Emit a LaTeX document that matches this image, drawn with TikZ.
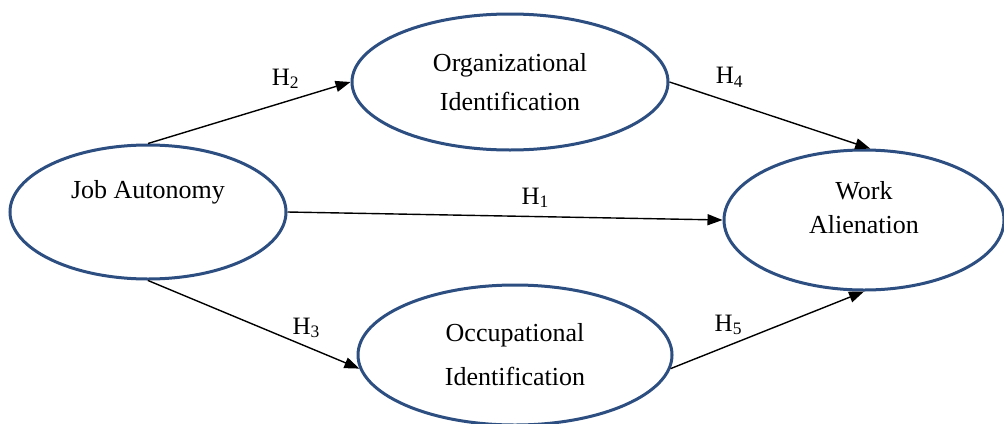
\documentclass[tikz,border=0pt]{standalone}
\usepackage{fontspec}
\setmainfont{Liberation Serif}
\usetikzlibrary{positioning, arrows.meta, shapes.geometric}

\definecolor{ovalblue}{RGB}{44,78,128}

\begin{document}
\begin{tikzpicture}[
        x=0.5pt, y=-0.5pt,
        construct/.style={ellipse, draw=ovalblue, line width=1.5pt, fill=white, inner sep=0pt, align=center, font=\fontsize{13}{17}\selectfont},
        hyparr/.style={-{Triangle[length=7.5pt, width=5.5pt]}, line width=0.7pt, black},
        hyplab/.style={font=\fontsize{12.5}{14}\selectfont, inner sep=1pt, black},
    ]
        \useasboundingbox (0,0) rectangle (1004,423);

        % Constructs
        \node[construct, minimum width=138pt, minimum height=67pt] (ja) at (148,212) {Job Autonomy\\[6pt]\mbox{}};
        \node[construct, minimum width=158pt, minimum height=68pt] (org) at (510,82) {Organizational\\[2.5pt]Identification};
        \node[construct, minimum width=140pt, minimum height=70pt] (wa) at (864,220) {Work\\Alienation\\[-4pt]\mbox{}};
        \node[construct, minimum width=157pt, minimum height=70pt] (occ) at (515,355) {Occupational\\[5pt]Identification};

        % Hypotheses
        \draw[hyparr] (ja.north) -- node[hyplab, pos=0.68, above=5pt] {H\textsubscript{2}} (org.west);
        \draw[hyparr] (org.east) -- node[hyplab, pos=0.3, above=6pt] {H\textsubscript{4}} (wa.85);
        \draw[hyparr] (ja.east) -- node[hyplab, pos=0.57, above=3pt] {H\textsubscript{1}} (wa.west);
        \draw[hyparr] (ja.south) -- node[hyplab, pos=0.75, above=3pt] {H\textsubscript{3}} (occ.185);
        \draw[hyparr] (occ.-5) -- node[hyplab, pos=0.3, above=4pt] {H\textsubscript{5}} (wa.south);
    \end{tikzpicture}
\end{document}
